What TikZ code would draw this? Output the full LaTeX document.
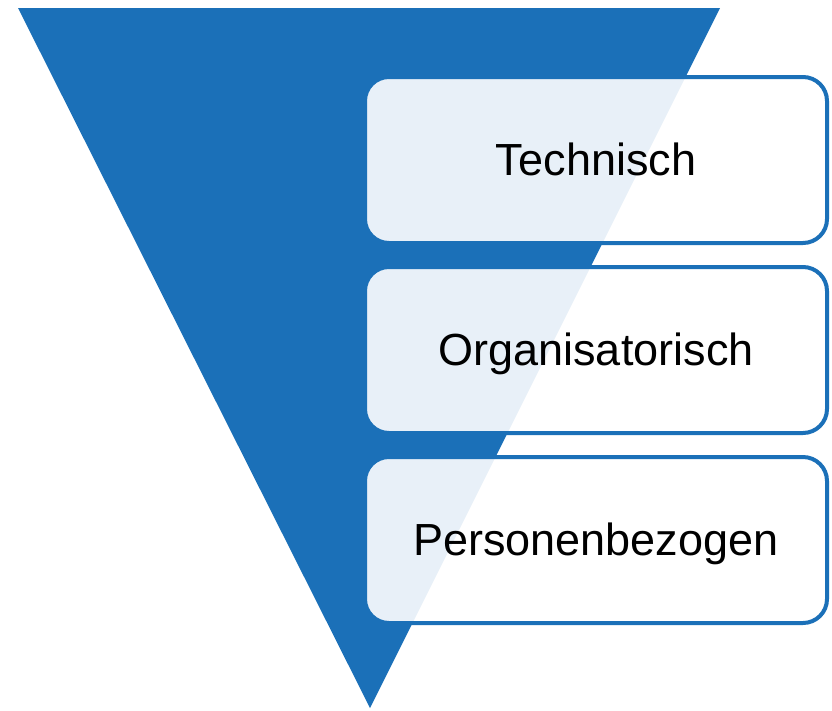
\documentclass[tikz,border=0pt]{standalone}
\usepackage{fontspec}
\setmainfont{Liberation Sans}
\definecolor{funnelblue}{RGB}{27,112,184}
\begin{document}
\begin{tikzpicture}[x=1pt,y=-1pt,
  layerbox/.style={draw=funnelblue, line width=4pt, fill=white, fill opacity=0.9,
    text opacity=1, rounded corners=24pt, minimum width=462pt, minimum height=166pt,
    font=\fontsize{45}{54}\selectfont, inner sep=0pt,
    text height=31pt, text depth=0pt}]
  \useasboundingbox (0,0) rectangle (832,710);
  % funnel triangle
  \fill[funnelblue] (18,8) -- (720,8) -- (370,708) -- cycle;
  % layer boxes
  \node[layerbox] (tech) at (596,160) {Technisch};
  \node[layerbox] (org)  at (596,350) {Organisatorisch};
  \node[layerbox] (pers) at (596,540) {Personenbezogen};
\end{tikzpicture}
\end{document}
